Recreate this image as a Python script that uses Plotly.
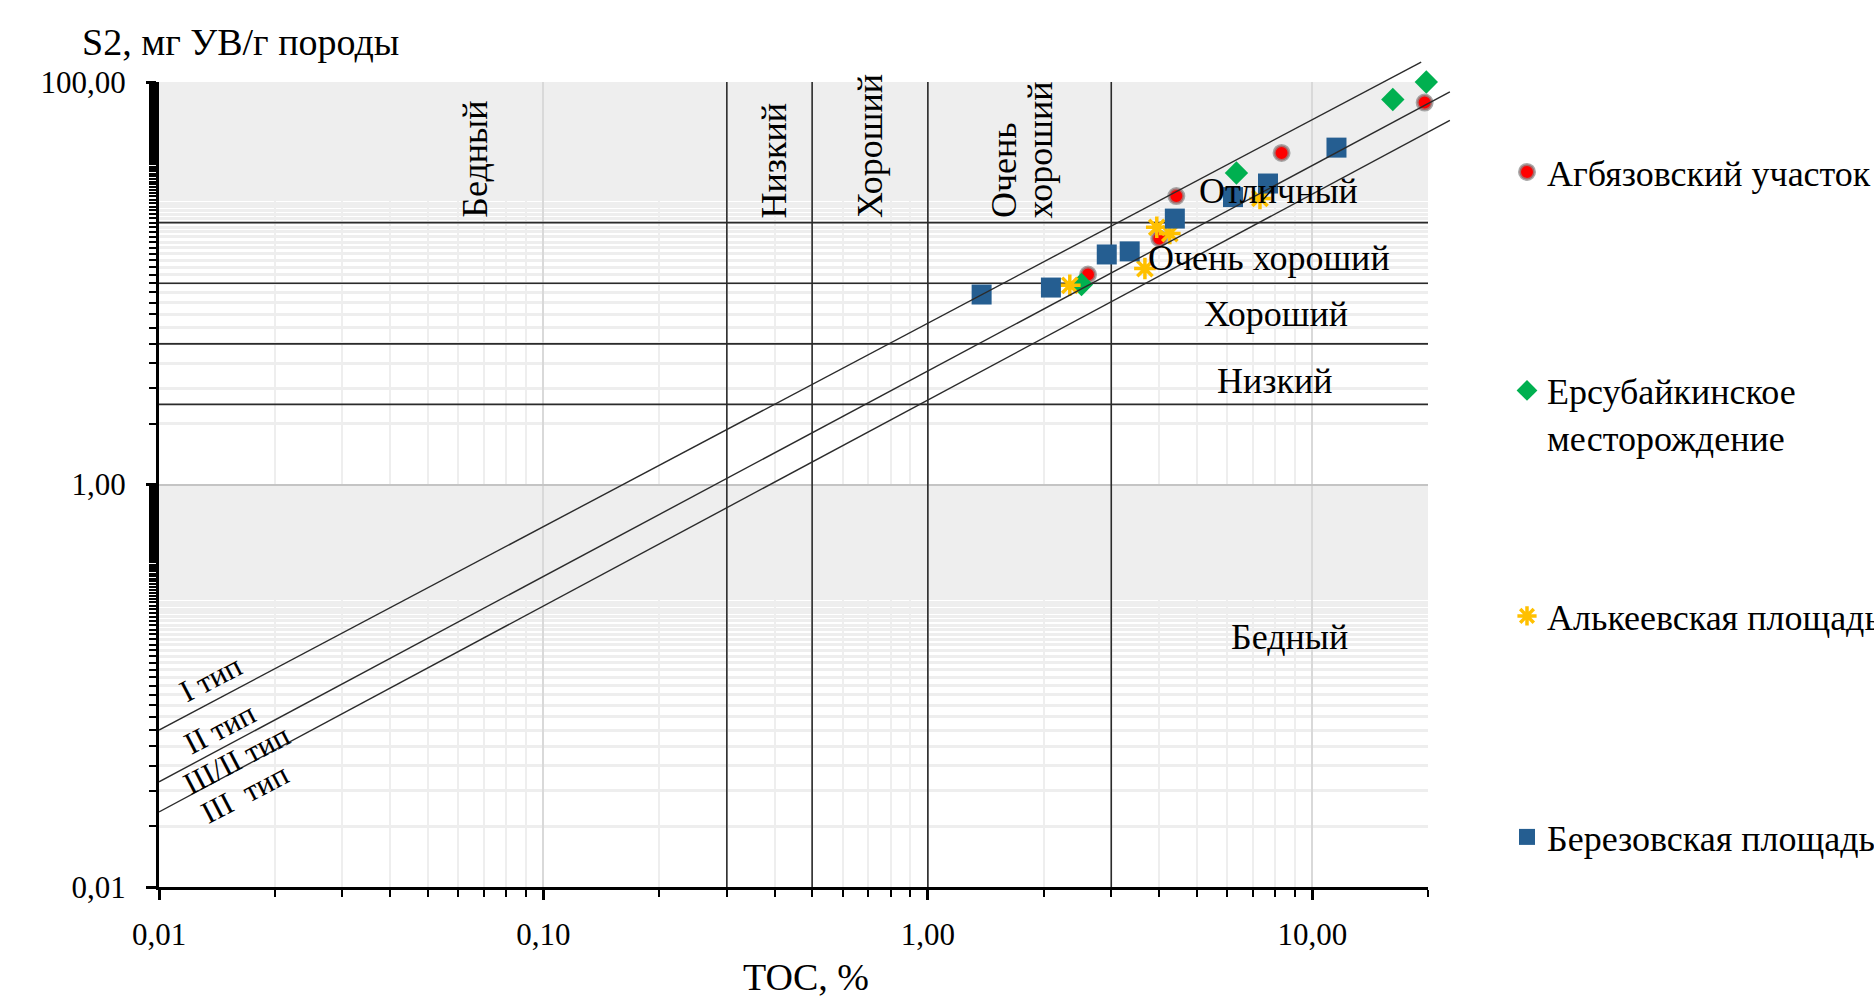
import numpy as np
import plotly.graph_objects as go

# ---------------- data ----------------
agb_toc = [2.61, 4.00, 4.43, 8.32, 19.6]
agb_s2 = [11.05, 16.7, 27.1, 44.4, 79.0]

ers_toc = [2.51, 6.35, 16.2, 19.8]
ers_s2 = [9.85, 35.3, 81.8, 100.0]

alk_toc = [2.34, 3.67, 3.94, 4.26, 7.31]
alk_s2 = [9.77, 11.83, 18.97, 17.66, 26.4]

ber_toc = [1.38, 2.09, 2.92, 3.35, 4.39, 6.22, 7.67, 11.56]
ber_s2 = [8.79, 9.52, 13.9, 14.4, 20.96, 26.8, 31.3, 47.2]

series_names = ["Агбязовский участок", "Ерсубайкинское<br>месторождение",
                "Алькеевская площадь", "Березовская площадь"]

# classification limits
toc_limits = [0.3, 0.5, 1.0, 3.0]
s2_limits = [2.5, 5.0, 10.0, 20.0]

# kerogen type lines (end points TOC, S2)
type_lines_toc = [[0.01, 19.2], [0.01, 22.8], [0.01, 22.8]]
type_lines_s2 = [[0.0602, 125.7], [0.0333, 89.2], [0.0236, 64.5]]

# labels
toc_class_labels = ["Бедный", "Низкий", "Хороший", "Очень", "хороший"]
toc_class_x = [0.0664, 0.399, 0.707, 1.577, 1.956]
toc_class_y = 20.6

s2_class_labels = ["Отличный", "Очень хороший", "Хороший", "Низкий", "Бедный"]
s2_class_x = [8.18, 7.71, 8.03, 7.98, 8.74]
s2_class_y = [28.6, 13.3, 7.01, 3.26, 0.174]

type_labels = ["I тип", "II тип", "III/II тип", "III  тип"]
type_label_x = [0.0136, 0.01436, 0.0159, 0.01667]
type_label_y = [0.109, 0.0616, 0.0432, 0.0293]

x_ticks = [0.01, 0.1, 1, 10]
x_ticktext = ["0,01", "0,10", "1,00", "10,00"]
y_ticks = [0.01, 1, 100]
y_ticktext = ["0,01", "1,00", "100,00"]

X_MIN, X_MAX = 0.01, 20
Y_MIN, Y_MAX = 0.01, 100

FONT = "Liberation Serif"

# ---------------- layout geometry (pixels) ----------------
W, H = 1874, 999
PL, PR, PT, PB = 159, 1428, 82, 887      # main plot area
ER, ET = 1465, 50                          # extended area for the type lines
PW, PH = ER - PL, PB - ET                  # paper size


def px(xp):
    return (xp - PL) / PW


def py(yp):
    return (PB - yp) / PH


xdom_main = px(PR)
ydom_main = py(PT)
lx0, lx1 = np.log10(X_MIN), np.log10(X_MAX)
ly0, ly1 = np.log10(Y_MIN), np.log10(Y_MAX)
x2_range = [lx0, lx0 + (lx1 - lx0) / xdom_main]
y2_range = [ly0, ly0 + (ly1 - ly0) / ydom_main]

x_minor = [m * k for m in (0.01, 0.1, 1, 10) for k in range(2, 10) if m * k <= X_MAX + 1e-9]
y_minor = [m * k for m in (0.01, 1) for k in range(2, 100)]

fig = go.Figure()

# threshold lines
for t in toc_limits:
    fig.add_trace(go.Scatter(x=[t, t], y=[Y_MIN, Y_MAX], mode="lines",
                             line=dict(color="#2b2b2b", width=1.6),
                             showlegend=False, hoverinfo="skip"))
for s in s2_limits:
    fig.add_trace(go.Scatter(x=[X_MIN, X_MAX], y=[s, s], mode="lines",
                             line=dict(color="#2b2b2b", width=1.6),
                             showlegend=False, hoverinfo="skip"))

# data series
fig.add_trace(go.Scatter(
    x=agb_toc, y=agb_s2, mode="markers", name=series_names[0], legend="legend",
    marker=dict(symbol="circle", size=15, color="#ff0000",
                line=dict(color="rgba(140,140,140,0.75)", width=3)),
    cliponaxis=False))
fig.add_trace(go.Scatter(
    x=ers_toc, y=ers_s2, mode="markers", name=series_names[1], legend="legend2",
    marker=dict(symbol="diamond", size=18, color="#00b050", line=dict(width=0)),
    cliponaxis=False))
fig.add_trace(go.Scatter(
    x=alk_toc, y=alk_s2, mode="markers", name=series_names[2], legend="legend3",
    marker=dict(symbol="asterisk-open", size=18, color="#ffc000",
                line=dict(color="#ffc000", width=3.5)),
    cliponaxis=False))
fig.add_trace(go.Scatter(
    x=ber_toc, y=ber_s2, mode="markers", name=series_names[3], legend="legend4",
    marker=dict(symbol="square", size=20, color="#255e91", line=dict(width=0)),
    cliponaxis=False))

# kerogen type lines on an invisible, same-scale but larger subplot (not clipped at plot edge)
for xs, ys in zip(type_lines_toc, type_lines_s2):
    fig.add_trace(go.Scatter(x=xs, y=ys, mode="lines", xaxis="x2", yaxis="y2",
                             line=dict(color="#2b2b2b", width=1.4),
                             showlegend=False, hoverinfo="skip"))

ann = []
for txt, xv in zip(toc_class_labels, toc_class_x):
    ann.append(dict(x=np.log10(xv), y=np.log10(toc_class_y), xref="x", yref="y",
                    text=txt, textangle=-90, showarrow=False,
                    xanchor="center", yanchor="bottom",
                    font=dict(family=FONT, size=36, color="black")))
for txt, xv, yv in zip(s2_class_labels, s2_class_x, s2_class_y):
    ann.append(dict(x=np.log10(xv), y=np.log10(yv), xref="x", yref="y",
                    text=txt, showarrow=False, xanchor="center", yanchor="middle",
                    font=dict(family=FONT, size=36, color="black")))
for txt, xv, yv in zip(type_labels, type_label_x, type_label_y):
    ann.append(dict(x=np.log10(xv), y=np.log10(yv), xref="x", yref="y",
                    text=txt, textangle=-27.6, showarrow=False,
                    xanchor="center", yanchor="middle",
                    font=dict(family=FONT, size=31, color="black")))
# axis titles
ann.append(dict(x=px(80), y=py(42), xref="paper", yref="paper",
                text="S2, мг УВ/г породы", showarrow=False,
                xanchor="left", yanchor="middle",
                font=dict(family=FONT, size=38, color="black")))
ann.append(dict(x=px(806), y=py(977), xref="paper", yref="paper",
                text="TOC, %", showarrow=False,
                xanchor="center", yanchor="middle",
                font=dict(family=FONT, size=38, color="black")))

leg_common = dict(xanchor="left", yanchor="middle", bgcolor="rgba(0,0,0,0)",
                  font=dict(family=FONT, size=36, color="black"),
                  itemsizing="trace")
LX = px(1507)
fig.update_layout(
    width=W, height=H,
    margin=dict(l=PL, r=W - ER, t=ET, b=H - PB, autoexpand=False),
    paper_bgcolor="white", plot_bgcolor="rgba(0,0,0,0)",
    font=dict(family=FONT, color="black"),
    annotations=ann,
    legend=dict(x=LX, y=py(172), **leg_common),
    legend2=dict(x=LX, y=py(414), valign="top", **leg_common),
    legend3=dict(x=LX, y=py(616), **leg_common),
    legend4=dict(x=LX, y=py(837), **leg_common),
    xaxis=dict(type="log", range=[lx0, lx1], domain=[0, xdom_main], anchor="y",
               tickvals=x_ticks, ticktext=x_ticktext,
               ticks="outside", ticklen=10, tickwidth=2.5, tickcolor="black",
               showline=True, linecolor="black", linewidth=3,
               showgrid=True, gridcolor="#d9d9d9", gridwidth=2,
               tickfont=dict(family=FONT, size=31, color="black"),
               ticklabelstandoff=8,
               minor=dict(tickmode="array", tickvals=x_minor, ticks="outside",
                          ticklen=7, tickwidth=2, tickcolor="black",
                          showgrid=True, gridcolor="#eeeeee", gridwidth=2),
               zeroline=False, fixedrange=True),
    yaxis=dict(type="log", range=[ly0, ly1], domain=[0, ydom_main], anchor="x",
               tickvals=y_ticks, ticktext=y_ticktext,
               ticks="outside", ticklen=10, tickwidth=2.5, tickcolor="black",
               showline=True, linecolor="black", linewidth=3,
               showgrid=True, gridcolor="#c4c4c4", gridwidth=2,
               tickfont=dict(family=FONT, size=31, color="black"),
               ticklabelstandoff=14,
               minor=dict(tickmode="array", tickvals=y_minor, ticks="outside",
                          ticklen=7, tickwidth=2, tickcolor="black",
                          showgrid=True, gridcolor="#eeeeee", gridwidth=2.5),
               zeroline=False, fixedrange=True),
    xaxis2=dict(type="log", range=x2_range, domain=[0, 1], anchor="y2",
                visible=False, showgrid=False, zeroline=False, fixedrange=True),
    yaxis2=dict(type="log", range=y2_range, domain=[0, 1], anchor="x2",
                visible=False, showgrid=False, zeroline=False, fixedrange=True),
)

fig.write_html(
    "out.html",
    config={"displayModeBar": False},
    post_script="document.body.style.margin='0';document.body.style.overflow='hidden';",
)
